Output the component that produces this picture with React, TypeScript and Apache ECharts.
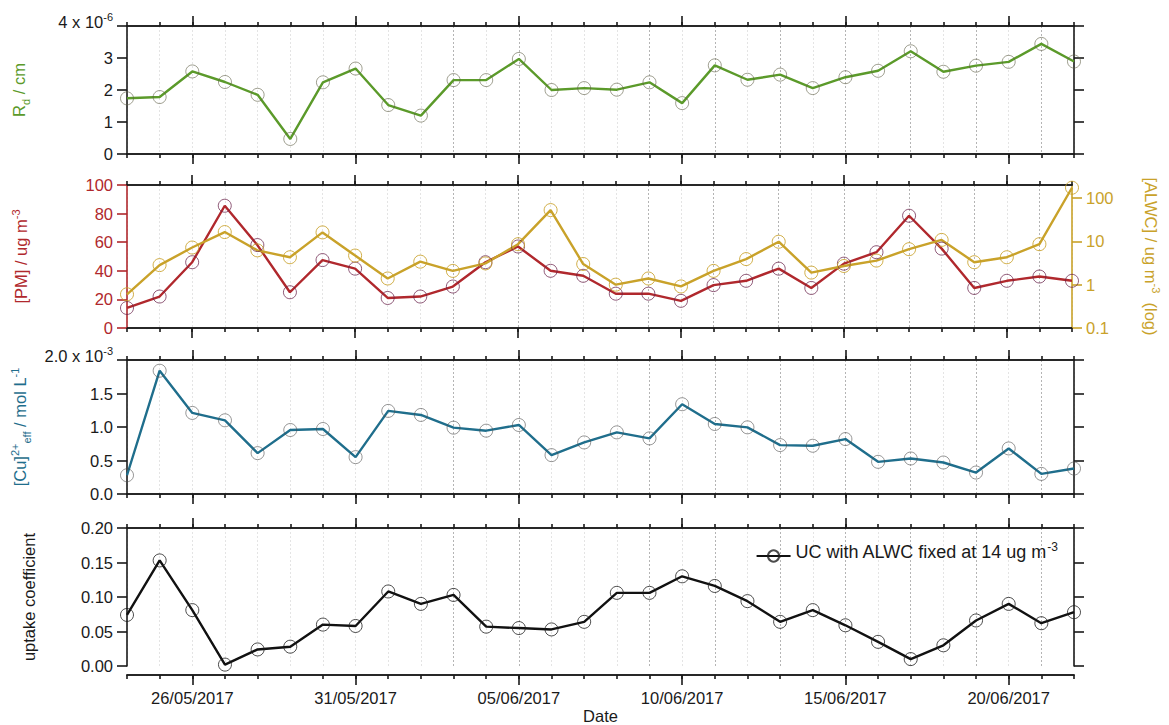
import React, { useEffect, useRef } from "react";
import * as echarts from "echarts";

// ---- data ----
const dates = [
  "24/05/2017", "25/05/2017", "26/05/2017", "27/05/2017", "28/05/2017", "29/05/2017",
  "30/05/2017", "31/05/2017", "01/06/2017", "02/06/2017", "03/06/2017", "04/06/2017",
  "05/06/2017", "06/06/2017", "07/06/2017", "08/06/2017", "09/06/2017", "10/06/2017",
  "11/06/2017", "12/06/2017", "13/06/2017", "14/06/2017", "15/06/2017", "16/06/2017",
  "17/06/2017", "18/06/2017", "19/06/2017", "20/06/2017", "21/06/2017", "22/06/2017",
];

// R_d in units of 1e-6 cm
const rdE6 = [1.74, 1.78, 2.58, 2.25, 1.85, 0.47, 2.24, 2.67, 1.53, 1.2, 2.31, 2.31, 2.97, 2.0, 2.06,
  2.01, 2.24, 1.59, 2.77, 2.32, 2.48, 2.06, 2.4, 2.6, 3.21, 2.57, 2.76, 2.88, 3.44, 2.89];

// [PM] ug m-3
const pm = [14, 22, 46, 85.5, 58, 25, 47.5, 41.5, 21, 22, 29, 46, 57, 40, 36.5,
  24, 24, 19, 30, 33, 41.5, 28, 45, 53, 78.5, 55.5, 28, 33, 36, 33];

// [ALWC] ug m-3 (log axis)
const alwc = [0.6, 2.83, 7.2, 16.4, 6.2, 4.3, 16.1, 4.7, 1.39, 3.4, 2.08, 3.1, 8.6, 52.7, 3.0,
  1.0, 1.39, 0.91, 2.08, 3.9, 9.8, 1.9, 2.7, 3.6, 6.6, 10.8, 3.3, 4.3, 8.6, 173];

// [Cu2+]eff in units of 1e-3 mol L-1
const cuE3 = [0.28, 1.84, 1.21, 1.1, 0.61, 0.955, 0.97, 0.55, 1.24, 1.18, 0.99, 0.945, 1.03, 0.58, 0.77,
  0.92, 0.83, 1.34, 1.045, 0.995, 0.73, 0.72, 0.82, 0.48, 0.53, 0.47, 0.32, 0.68, 0.3, 0.38];

// uptake coefficient
const uc = [0.074, 0.153, 0.081, 0.002, 0.024, 0.028, 0.06, 0.058, 0.108, 0.09, 0.103, 0.057, 0.055, 0.053, 0.064,
  0.106, 0.106, 0.13, 0.116, 0.094, 0.064, 0.081, 0.059, 0.035, 0.01, 0.03, 0.066, 0.09, 0.062, 0.078];

const majorEvery = 5;
const majorStart = 2;
const darkGridDays = [10, 12, 16, 18, 20, 22, 24, 26, 28];

// ---- styling ----
const FONT = "'Liberation Sans', Arial, Helvetica, sans-serif";
const AX = "#1a1a1a";
const LW = 1.6;
const GREEN = "#5b9a2a";
const RED = "#b0282d";
const GOLD = "#c9a22a";
const BLUE = "#1f6e8c";

function rich(color: string, size = 16, supSize = 11) {
  return {
    n: { fontSize: size, color, lineHeight: size, padding: [0, 0, 4, 0], verticalAlign: "bottom", fontFamily: FONT },
    sup: { fontSize: supSize, color, lineHeight: supSize, padding: [0, 0, 12, 0], verticalAlign: "bottom", fontFamily: FONT },
    sub: { fontSize: supSize, color, lineHeight: supSize, padding: [0, 0, 0, 0], verticalAlign: "bottom", fontFamily: FONT },
  };
}

const isMajor = (i: number) => i % majorEvery === majorStart;
const isDark = (i: number) => darkGridDays.indexOf(i) >= 0;

function xAxesFor(g: number, opts: { labels?: boolean; offset?: number; name?: string } = {}) {
  const offset = opts.offset ?? 0;
  const base = { type: "category", gridIndex: g, data: dates, boundaryGap: false };
  const line = { show: true, onZero: false, lineStyle: { color: AX, width: LW } };
  return [
    {
      ...base, position: "bottom", offset, axisLine: line,
      axisTick: { show: true, interval: 0, length: 4, lineStyle: { color: AX, width: LW } },
      axisLabel: { show: false },
      splitLine: { show: true, interval: 0, lineStyle: { color: "#e4e4e4", width: 1, type: [2, 2] } },
    },
    {
      ...base, position: "bottom", offset, axisLine: line,
      axisTick: { show: true, interval: (i: number) => isMajor(i), length: 10, lineStyle: { color: AX, width: LW } },
      axisLabel: {
        show: !!opts.labels, interval: (i: number) => isMajor(i), fontSize: 16.5, color: "#1a1a1a",
        margin: 14, fontFamily: FONT,
      },
      splitLine: { show: true, interval: (i: number) => isDark(i), lineStyle: { color: "#b4b4b4", width: 1, type: [2, 2] } },
      name: opts.name, nameLocation: "middle", nameGap: 32,
      nameTextStyle: { fontSize: 16.5, color: "#1a1a1a", fontFamily: FONT },
    },
    {
      ...base, position: "top", axisLine: line,
      axisTick: { show: true, interval: 0, length: 4, lineStyle: { color: AX, width: LW } },
      axisLabel: { show: false }, splitLine: { show: false },
    },
    {
      ...base, position: "top", axisLine: line,
      axisTick: { show: true, interval: (i: number) => isMajor(i), length: 10, lineStyle: { color: AX, width: LW } },
      axisLabel: { show: false }, splitLine: { show: false },
    },
  ];
}

function yPair(g: number, min: number, max: number, interval: number, fmt: (v: number) => string,
  name: string, nameColor: string, nameGap: number) {
  const line = { show: true, onZero: false, lineStyle: { color: AX, width: LW } };
  return [
    {
      type: "value", gridIndex: g, position: "left", min, max, interval,
      axisLine: line,
      axisTick: { show: true, length: 10, lineStyle: { color: AX, width: LW } },
      axisLabel: { fontSize: 16.5, color: "#1a1a1a", margin: 14, formatter: fmt, rich: rich("#1a1a1a", 16.5), fontFamily: FONT },
      splitLine: { show: false },
      name, nameLocation: "middle", nameGap,
      nameTextStyle: { color: nameColor, fontSize: 16.5, rich: rich(nameColor, 16.5), fontFamily: FONT },
    },
    {
      type: "value", gridIndex: g, position: "right", min, max, interval,
      axisLine: line,
      axisTick: { show: true, length: 10, lineStyle: { color: AX, width: LW } },
      axisLabel: { show: false }, splitLine: { show: false },
    },
  ];
}

function lineSeries(name: string, data: number[], xi: number, yi: number, color: string, markerColor: string) {
  return {
    type: "line", name, data, xAxisIndex: xi, yAxisIndex: yi,
    symbol: "circle", symbolSize: 13,
    lineStyle: { color, width: 2.4 },
    itemStyle: { color: "rgba(0,0,0,0)", borderColor: markerColor, borderWidth: 1 },
    emphasis: { disabled: true },
    z: 3,
  };
}

export default function App() {
  const ref = useRef<HTMLDivElement>(null);
  useEffect(() => {
    document.body.style.margin = "0";
    if (!ref.current) return;
    const chart = echarts.init(ref.current, undefined, { renderer: "svg" });

    const grids = [
      { left: 127, width: 947, top: 26, height: 128 },
      { left: 127, width: 947, top: 185, height: 143 },
      { left: 127, width: 947, top: 360, height: 134 },
      { left: 127, width: 947, top: 528, height: 140 },
    ];

    const xAxis = [
      ...xAxesFor(0),
      ...xAxesFor(1),
      ...xAxesFor(2),
      ...xAxesFor(3, { labels: true, offset: 9, name: "Date" }),
    ];

    const p1 = yPair(0, 0, 4, 1, (v: number) => (v === 4 ? "{n|4 x 10}{sup|-6}" : String(v)),
      "{n|R}{sub|d}{n| / cm}", GREEN, 96);

    const pmLeft = {
      type: "value", gridIndex: 1, position: "left", min: 0, max: 100, interval: 20,
      axisLine: { show: true, onZero: false, lineStyle: { color: RED, width: LW } },
      axisTick: { show: true, length: 10, lineStyle: { color: RED, width: LW } },
      axisLabel: { fontSize: 16.5, color: RED, margin: 14, fontFamily: FONT },
      splitLine: { show: false },
      name: "{n|[PM] / ug m}{sup|-3}", nameLocation: "middle", nameGap: 94,
      nameTextStyle: { color: RED, fontSize: 16.5, rich: rich(RED, 16.5), fontFamily: FONT },
    };
    const alwcRight = {
      type: "log", logBase: 10, gridIndex: 1, position: "right", min: 0.1, max: 200,
      axisLine: { show: true, onZero: false, lineStyle: { color: GOLD, width: LW } },
      axisTick: { show: true, length: 10, lineStyle: { color: GOLD, width: LW } },
      axisLabel: {
        fontSize: 16.5, color: GOLD, margin: 14, showMaxLabel: false, fontFamily: FONT,
        formatter: (v: number) => (v < 1 ? v.toFixed(1) : String(Math.round(v))),
      },
      minorTick: { show: false },
      splitLine: { show: false },
      name: "{n|[ALWC] / ug m}{sup|-3}{n|  (log)}", nameLocation: "middle", nameGap: 66, nameRotate: -90,
      nameTextStyle: { color: GOLD, fontSize: 16.5, rich: rich(GOLD, 16.5), fontFamily: FONT },
    };

    const p3 = yPair(2, 0, 2, 0.5, (v: number) => (v === 2 ? "{n|2.0 x 10}{sup|-3}" : v.toFixed(1)),
      "{n|[Cu]}{sup|2+}{sub|eff}{n| / mol L}{sup|-1}", BLUE, 95);

    const p4 = yPair(3, 0, 0.2, 0.05, (v: number) => v.toFixed(2), "{n|uptake coefficient}", "#1a1a1a", 86);

    const yAxis = [...p1, pmLeft, alwcRight, ...p3, ...p4];

    const series = [
      lineSeries("Rd", rdE6, 0, 0, GREEN, "rgba(95,95,70,0.6)"),
      lineSeries("PM", pm, 4, 2, RED, "rgba(105,35,75,0.75)"),
      lineSeries("ALWC", alwc, 4, 3, GOLD, "rgba(200,160,40,0.85)"),
      lineSeries("Cu", cuE3, 8, 4, BLUE, "rgba(80,80,80,0.6)"),
      lineSeries("UC with ALWC fixed at 14 ug m-3", uc, 12, 6, "#111111", "rgba(30,30,30,0.8)"),
    ];

    chart.setOption({
      animation: false,
      backgroundColor: "#ffffff",
      textStyle: { fontFamily: FONT },
      grid: grids,
      xAxis,
      yAxis,
      series,
      legend: {
        data: ["UC with ALWC fixed at 14 ug m-3"],
        right: 106, top: 536,
        itemWidth: 34, itemHeight: 14, itemGap: 6,
        formatter: () => "{n|UC with ALWC fixed at 14 ug m}{sup|-3}",
        textStyle: { fontSize: 18, color: "#1a1a1a", rich: rich("#1a1a1a", 18, 12), fontFamily: FONT },
      },
    });
    return () => chart.dispose();
  }, []);
  return <div ref={ref} style={{ width: 1169, height: 725 }} />;
}
